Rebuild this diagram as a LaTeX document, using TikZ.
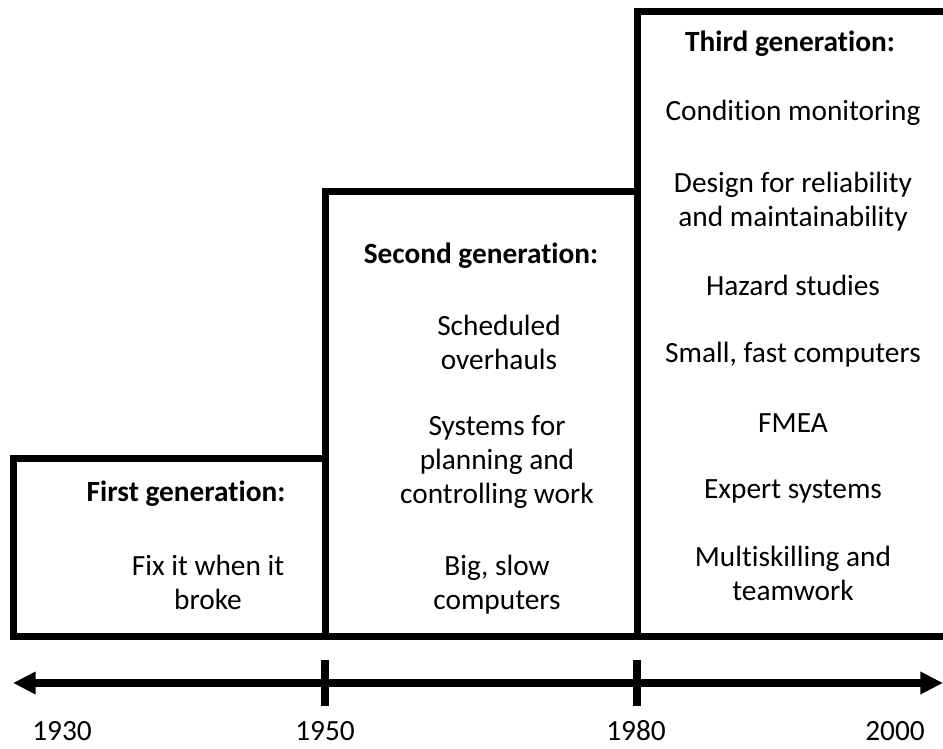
\documentclass[tikz,border=0pt]{standalone}
\usepackage{fontspec}
\setmainfont{Carlito}[Ligatures={NoCommon}]
\usetikzlibrary{arrows.meta}
\begin{document}
\begin{tikzpicture}[x=0.75pt,y=-0.75pt,
  frame/.style={line width=5.25pt,line join=miter},
  axis/.style={line width=6pt},
  txt/.style={font=\fontsize{22}{25.5}\selectfont,align=center,inner sep=0pt,text=black},
  head/.style={txt,font=\fontsize{22}{25.5}\selectfont\bfseries},
  year/.style={txt,anchor=base}]
\useasboundingbox (0,0) rectangle (943,749);
\clip (0,0) rectangle (943,749);

% corner points of the three stepped boxes
\coordinate (b1tl) at (13,458);
\coordinate (b1br) at (325,636);
\coordinate (b2tl) at (325,191);
\coordinate (b2br) at (637,636);
\coordinate (b3tl) at (637,12);
\coordinate (b3br) at (950,636);

\draw[frame] (b1tl) rectangle (b1br);
\draw[frame] (b2tl) rectangle (b2br);
\draw[frame] (b3tl) rectangle (b3br);

% first generation
\node[head] (h1) at (186,494) {First generation:};
\node[txt] (t1a) at (208,582) {Fix it when it\\broke};

% second generation
\node[head] (h2) at (481,256) {Second generation:};
\node[txt] (t2a) at (499,342) {Scheduled\\overhauls};
\node[txt] (t2b) at (497,462) {Systems for\\planning and\\controlling work};
\node[txt] (t2c) at (497,585) {Big, slow\\computers};

% third generation
\node[head] (h3) at (790,44) {Third generation:};
\node[txt] (t3a) at (793,113) {Condition monitoring};
\node[txt] (t3b) at (793,202) {Design for reliability\\and maintainability};
\node[txt] (t3c) at (793,285) {Hazard studies};
\node[txt] (t3d) at (793,355) {Small, fast computers};
\node[txt] (t3e) at (793,423) {FMEA};
\node[txt] (t3f) at (793,491) {Expert systems};
\node[txt] (t3g) at (793,573) {Multiskilling and\\teamwork};

% time axis
\coordinate (aL) at (13,683);
\coordinate (aR) at (943,683);
\draw[axis,{Triangle[length=17pt,width=16pt]}-{Triangle[length=17pt,width=16pt]}] (aL) -- (aR);
\coordinate (k1t) at (325,660);
\coordinate (k1b) at (325,706);
\coordinate (k2t) at (637,660);
\coordinate (k2b) at (637,706);
\draw[axis] (k1t) -- (k1b);
\draw[axis] (k2t) -- (k2b);

\node[year] (y1930) at (62,740) {1930};
\node[year] (y1950) at (325,740) {1950};
\node[year] (y1980) at (636,740) {1980};
\node[year] (y2000) at (895,740) {2000};
\end{tikzpicture}
\end{document}
